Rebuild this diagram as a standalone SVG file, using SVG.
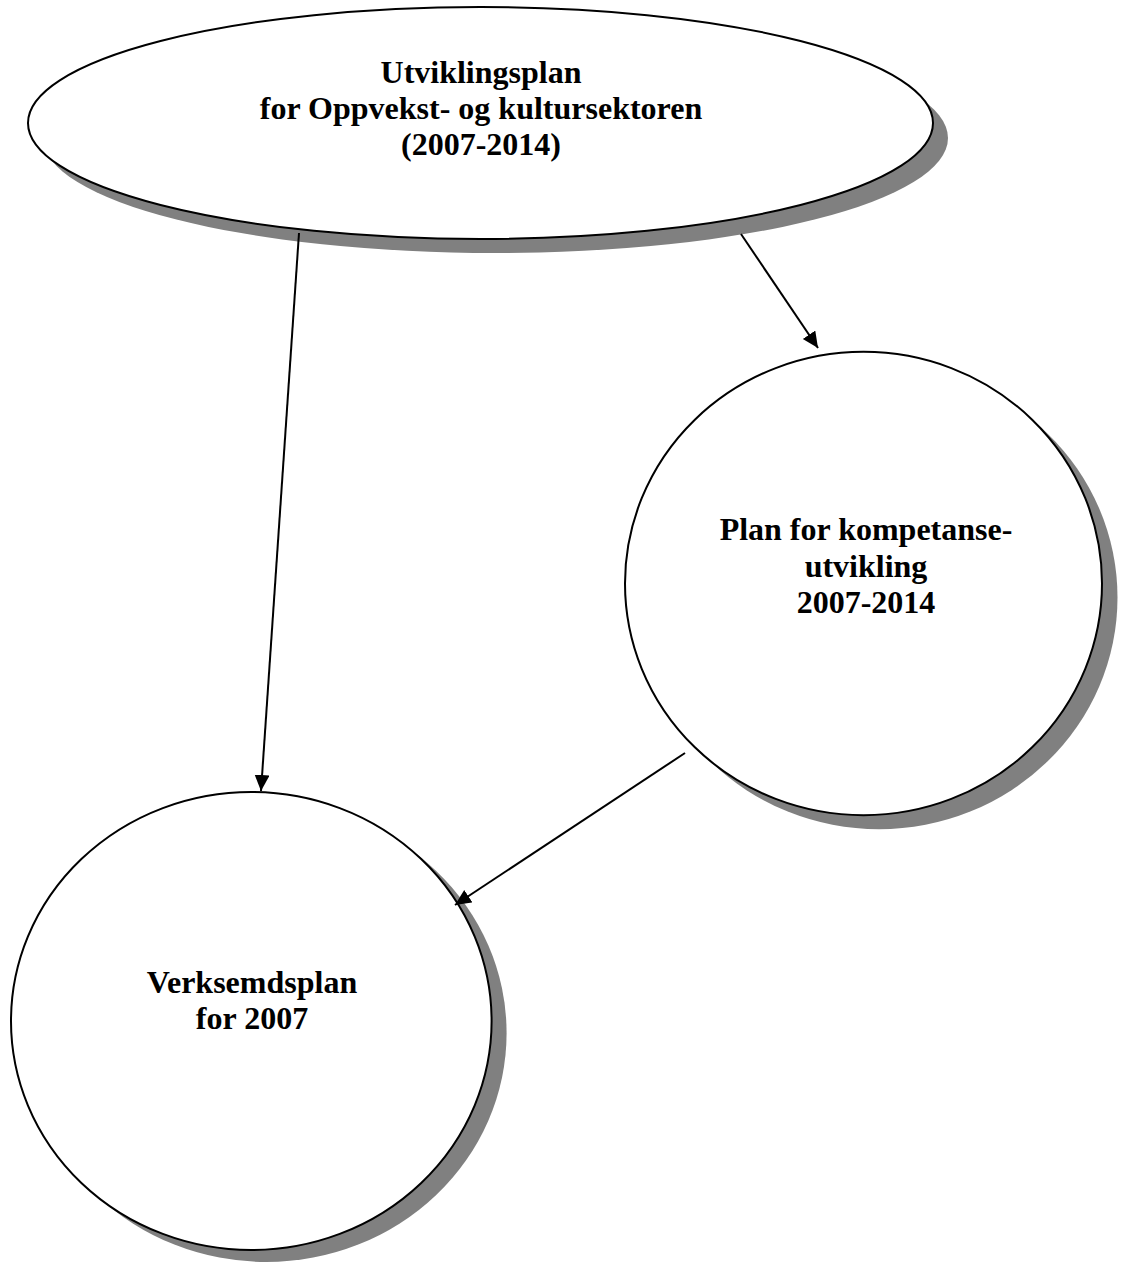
<svg xmlns="http://www.w3.org/2000/svg" width="1127" height="1265" viewBox="0 0 1127 1265">
  <style>
    .shadow { fill: #808080; stroke: none; }
    .node { fill: #ffffff; stroke: #000000; stroke-width: 2; }
    .label { font-family: "Liberation Serif", "Times New Roman", serif; font-weight: bold; font-size: 32px; fill: #000000; text-anchor: middle; }
    .conn { stroke: #000000; stroke-width: 2; fill: none; marker-end: url(#arrow); }
  </style>
  <defs>
    <marker id="arrow" markerUnits="userSpaceOnUse" markerWidth="17" markerHeight="16" refX="16" refY="7.5" orient="auto">
      <path d="M0,0 L16,7.5 L0,15 z" fill="#000000"/>
    </marker>
  </defs>
  <rect width="1127" height="1265" fill="#ffffff"/>

  <g id="node-utviklingsplan">
    <ellipse class="shadow" cx="495.5" cy="138" rx="452.5" ry="115"/>
    <ellipse class="node" cx="480.5" cy="123" rx="452.5" ry="116"/>
    <text class="label" x="481" y="83">Utviklingsplan</text>
    <text class="label" x="481" y="119">for Oppvekst- og kultursektoren</text>
    <text class="label" x="481" y="155">(2007-2014)</text>
  </g>

  <g id="node-kompetanse">
    <ellipse class="shadow" cx="879" cy="597.5" rx="238.5" ry="231.7"/>
    <ellipse class="node" cx="863.5" cy="583.5" rx="238.5" ry="231.7"/>
    <text class="label" x="866" y="540">Plan for kompetanse-</text>
    <text class="label" x="866" y="577">utvikling</text>
    <text class="label" x="866" y="613">2007-2014</text>
  </g>

  <g id="node-verksemdsplan">
    <ellipse class="shadow" cx="266.3" cy="1033" rx="240.3" ry="229"/>
    <ellipse class="node" cx="251.3" cy="1021" rx="240.3" ry="229"/>
    <text class="label" x="252" y="993">Verksemdsplan</text>
    <text class="label" x="252" y="1029">for 2007</text>
  </g>

  <g id="connectors">
    <line class="conn" x1="299" y1="233" x2="261" y2="791"/>
    <line class="conn" x1="741" y1="234" x2="818" y2="348"/>
    <line class="conn" x1="685" y1="753" x2="455" y2="905"/>
  </g>
</svg>
